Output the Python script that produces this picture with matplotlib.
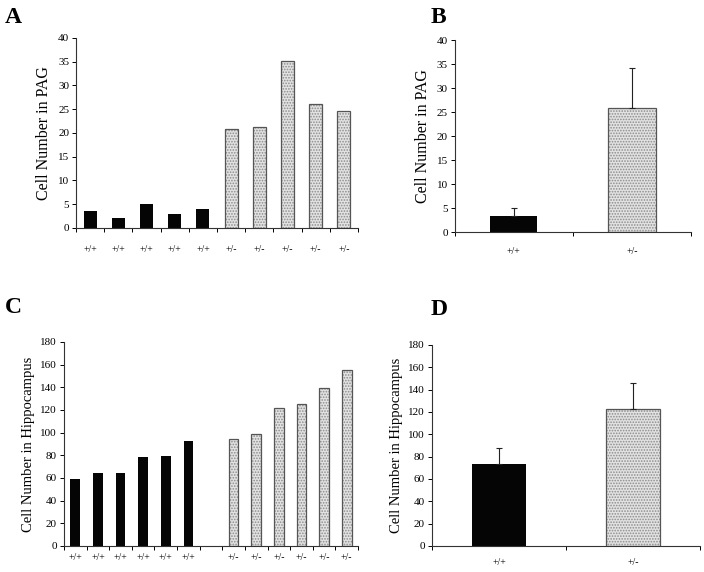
import matplotlib
matplotlib.use("Agg")
from matplotlib import pyplot as plt

plt.rcParams['font.family'] = ['Liberation Serif', 'DejaVu Serif']
plt.rcParams['hatch.linewidth'] = 0.8

# panel A: individual animals, PAG
pag_labels = ["+/+"] * 5 + ["+/-"] * 5
pag_wt = [3.5, 2.0, 5.0, 3.0, 3.9]
pag_het = [20.8, 21.3, 35.2, 26.2, 24.7]

# panel B: PAG means
mean_labels = ["+/+", "+/-"]
pag_mean = [3.4, 25.8]
pag_err = [1.5, 8.4]

# panel C: individual animals, hippocampus (one empty slot between groups)
hip_labels = ["+/+"] * 6 + [""] + ["+/-"] * 6
hip_wt = [59.5, 64.5, 64.5, 78.5, 79.5, 92.5]
hip_het = [94, 98.5, 122, 125.5, 139.5, 155]

# panel D: hippocampus means
hip_mean = [73, 123]
hip_err = [14.5, 23]

BLACK = "#050505"


def stipple_bar(ax, x, h, w):
    ax.bar(x, h, w, color="#e2e2e2", edgecolor="#8c8c8c", hatch="......", linewidth=0, zorder=2)
    ax.bar(x, h, w, fill=False, edgecolor="#555555", linewidth=0.9, zorder=3)


def style(ax, labels, ymax, ystep, ylabel, ylsize, xpad):
    n = len(labels)
    ax.set_xlim(0, n)
    ax.set_ylim(0, ymax)
    ax.set_yticks(range(0, ymax + 1, ystep))
    ax.set_xticks(range(n + 1))
    ax.set_xticklabels([])
    ax.set_xticks([i + 0.5 for i in range(n)], minor=True)
    ax.set_xticklabels(labels, minor=True, fontsize=7)
    ax.tick_params(axis="x", which="major", length=3, width=0.7, direction="out")
    ax.tick_params(axis="x", which="minor", length=0, pad=xpad)
    ax.tick_params(axis="y", length=3, width=0.7, labelsize=8, pad=2)
    for s in ("top", "right"):
        ax.spines[s].set_visible(False)
    for s in ("left", "bottom"):
        ax.spines[s].set_linewidth(0.8)
        ax.spines[s].set_color("#333333")
    ax.set_ylabel(ylabel, fontsize=ylsize, labelpad=4)


fig = plt.figure(figsize=(7.04, 5.72), dpi=100)

# A
axA = fig.add_axes([0.108, 0.6014, 0.4005, 0.3322])
for i, v in enumerate(pag_wt):
    axA.bar(i + 0.5, v, 0.46, color=BLACK, zorder=2)
for i, v in enumerate(pag_het):
    stipple_bar(axA, len(pag_wt) + i + 0.5, v, 0.46)
style(axA, pag_labels, 40, 5, "Cell Number in PAG", 11.5, 12)

# B
axB = fig.add_axes([0.646, 0.5944, 0.3355, 0.3356])
axB.bar(0.5, pag_mean[0], 0.4, color=BLACK, zorder=2)
stipple_bar(axB, 1.5, pag_mean[1], 0.4)
axB.errorbar([0.5, 1.5], pag_mean, yerr=[[0, 0], pag_err], fmt="none",
             ecolor="#222222", elinewidth=0.8, capsize=2, capthick=0.8, zorder=4)
style(axB, mean_labels, 40, 5, "Cell Number in PAG", 11.5, 11)

# C
axC = fig.add_axes([0.0909, 0.0455, 0.4176, 0.3566])
for i, v in enumerate(hip_wt):
    axC.bar(i + 0.5, v, 0.43, color=BLACK, zorder=2)
for i, v in enumerate(hip_het):
    stipple_bar(axC, len(hip_wt) + 1 + i + 0.5, v, 0.43)
style(axC, hip_labels, 180, 20, "Cell Number in Hippocampus", 10.5, 5)

# D
axD = fig.add_axes([0.6136, 0.0455, 0.3807, 0.3514])
axD.bar(0.5, hip_mean[0], 0.4, color=BLACK, zorder=2)
stipple_bar(axD, 1.5, hip_mean[1], 0.4)
axD.errorbar([0.5, 1.5], hip_mean, yerr=[[0, 0], hip_err], fmt="none",
             ecolor="#222222", elinewidth=0.8, capsize=2, capthick=0.8, zorder=4)
style(axD, mean_labels, 180, 20, "Cell Number in Hippocampus", 10.5, 9)

# panel letters
for lbl, x, y in [("A", 0.007, 0.96), ("B", 0.612, 0.96),
                  ("C", 0.007, 0.453), ("D", 0.612, 0.449)]:
    fig.text(x, y, lbl, fontsize=17, fontweight="bold", va="baseline", ha="left")

fig.savefig("out.png", dpi=100)
